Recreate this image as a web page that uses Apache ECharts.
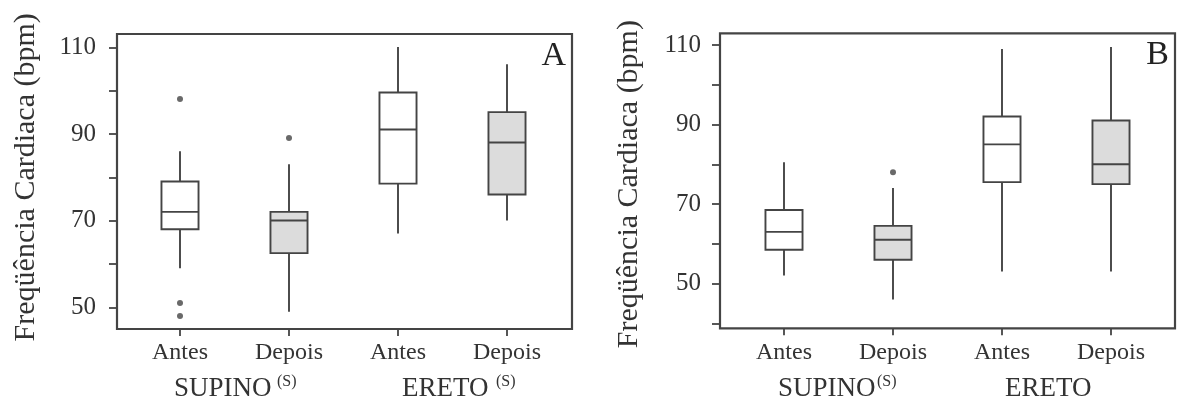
<!DOCTYPE html>
<html><head><meta charset="utf-8">
<script src="https://cdn.jsdelivr.net/npm/echarts@6/dist/echarts.min.js"></script>
<style>html,body{margin:0;padding:0;background:#fff}#c{width:1177px;height:400px}</style>
</head><body><div id="c"></div>
<script>
// ---- data ----
const categories = ['Antes', 'Depois', 'Antes', 'Depois'];
const yTickLabelsShown = [50, 70, 90, 110];
const yTitle = 'Freqüência Cardiaca (bpm)';

// Panel A
const aLow    = [59, 49, 67, 70];
const aQ1     = [68, 62.5, 78.5, 76];
const aMedian = [72, 70, 91, 88];
const aQ3     = [79, 72, 99.5, 95];
const aHigh   = [86, 83, 110, 106];
const aOutliers = [[0, 98], [0, 51], [0, 48], [1, 89]];
const aGroups = [['SUPINO', '(S)'], ['ERETO', '(S)']];

// Panel B
const bLow    = [52, 46, 53, 53];
const bQ1     = [58.5, 56, 75.5, 75];
const bMedian = [63, 61, 85, 80];
const bQ3     = [68.5, 64.5, 92, 91];
const bHigh   = [80.5, 74, 109, 109.5];
const bOutliers = [[1, 78]];
const bGroups = [['SUPINO', '(S)'], ['ERETO', '']];

// ---- style ----
const INK = '#333333';
const LINE = '#444444';
const FONT = "'Liberation Serif', 'Times New Roman', serif";
const boxFill = ['#ffffff', '#dcdcdc', '#ffffff', '#dcdcdc'];

function rows(lo, q1, md, q3, hi) {
  return categories.map((c, i) => [i, lo[i], q1[i], md[i], q3[i], hi[i]]);
}

function renderBox(params, api) {
  const i = api.value(0);
  const lo = api.coord([i, api.value(1)]);
  const q1 = api.coord([i, api.value(2)]);
  const md = api.coord([i, api.value(3)]);
  const q3 = api.coord([i, api.value(4)]);
  const hi = api.coord([i, api.value(5)]);
  const half = api.size([1, 0])[0] * 0.17;
  const st = { stroke: LINE, lineWidth: 1.9, fill: null };
  return {
    type: 'group',
    children: [
      { type: 'line', shape: { x1: lo[0], y1: lo[1], x2: q1[0], y2: q1[1] }, style: st },
      { type: 'line', shape: { x1: q3[0], y1: q3[1], x2: hi[0], y2: hi[1] }, style: st },
      { type: 'rect', shape: { x: q3[0] - half, y: q3[1], width: half * 2, height: q1[1] - q3[1] },
        style: { fill: boxFill[params.dataIndex], stroke: LINE, lineWidth: 1.9 } },
      { type: 'line', shape: { x1: md[0] - half, y1: md[1], x2: md[0] + half, y2: md[1] }, style: st }
    ]
  };
}

const grid = [], xAxis = [], yAxis = [], series = [], graphic = [];

function addPanel(p) {
  const g0 = grid.length;
  // frame grid
  grid.push({ left: p.fl, top: p.ft, width: p.fw, height: p.fh, show: true,
              borderColor: LINE, borderWidth: 2.2, backgroundColor: 'transparent' });
  xAxis.push({ gridIndex: g0, type: 'value', show: false });
  yAxis.push({ gridIndex: g0, type: 'value', show: false });
  // tick grid
  grid.push({ left: p.fl, top: p.tt, width: p.fw, height: p.th });
  xAxis.push({ gridIndex: g0 + 1, type: 'value', show: false });
  yAxis.push({
    gridIndex: g0 + 1, type: 'value', min: p.tmin, max: 110, interval: 10,
    axisLine: { show: false }, splitLine: { show: false },
    axisTick: { show: true, length: 8, lineStyle: { color: LINE, width: 1.8 } },
    axisLabel: { margin: p.lm, fontSize: 25, fontFamily: FONT, color: INK,
      formatter: v => yTickLabelsShown.includes(v) ? String(v) : '' },
    name: yTitle, nameLocation: 'middle', nameRotate: 90, nameGap: p.ng,
    nameTextStyle: { fontSize: 30, fontFamily: FONT, color: INK }
  });
  // data grid
  grid.push({ left: p.dl, top: p.ft, width: p.dw, height: p.fh });
  xAxis.push({
    gridIndex: g0 + 2, type: 'category', data: categories, boundaryGap: true,
    axisLine: { show: false }, splitLine: { show: false },
    axisTick: { show: true, alignWithLabel: true, length: 7, lineStyle: { color: LINE, width: 1.8 } },
    axisLabel: { margin: 12, fontSize: 24, fontFamily: FONT, color: INK, interval: 0 }
  });
  yAxis.push({ gridIndex: g0 + 2, type: 'value', min: p.ymin, max: p.ymax, show: false });
  series.push({
    type: 'custom', xAxisIndex: g0 + 2, yAxisIndex: g0 + 2, clip: false,
    renderItem: renderBox, encode: { x: 0, y: [1, 2, 3, 4, 5] }, data: p.data, silent: true
  });
  series.push({
    type: 'scatter', xAxisIndex: g0 + 2, yAxisIndex: g0 + 2, symbol: 'circle', symbolSize: 6,
    itemStyle: { color: '#444' }, data: p.outliers, silent: true
  });
  // panel letter
  graphic.push({ type: 'text', x: p.fl + p.fw - 6, y: p.ft + 22,
    style: { text: p.letter, fontSize: 34, fontFamily: FONT, fill: '#222',
             align: 'right', verticalAlign: 'middle', textAlign: 'right', textVerticalAlign: 'middle' } });
  // group labels
  p.groups.forEach((gr, k) => {
    graphic.push({ type: 'text', x: p.gx[k], y: 389,
      style: { text: gr[0], fontSize: 27, fontFamily: FONT, fill: INK,
               align: 'left', verticalAlign: 'middle', textAlign: 'left', textVerticalAlign: 'middle' } });
    if (gr[1]) graphic.push({ type: 'text', x: p.sx[k], y: 382,
      style: { text: gr[1], fontSize: 16, fontFamily: FONT, fill: INK,
               align: 'left', verticalAlign: 'middle', textAlign: 'left', textVerticalAlign: 'middle' } });
  });
}

addPanel({ fl: 117, ft: 34, fw: 455, fh: 295, tt: 47.3, th: 260, tmin: 50, lm: 21, ng: 76,
  dl: 125.5, dw: 436, ymin: 45, ymax: 113, letter: 'A',
  data: rows(aLow, aQ1, aMedian, aQ3, aHigh), outliers: aOutliers,
  groups: aGroups, gx: [174, 402], sx: [277, 496] });
addPanel({ fl: 720, ft: 33.3, fw: 455, fh: 295, tt: 45, th: 278.3, tmin: 40, lm: 19, ng: 76,
  dl: 729.5, dw: 436, ymin: 38.74, ymax: 112.94, letter: 'B',
  data: rows(bLow, bQ1, bMedian, bQ3, bHigh), outliers: bOutliers,
  groups: bGroups, gx: [778, 1005], sx: [877, 0] });

const chart = echarts.init(document.getElementById('c'), null, { renderer: 'canvas' });
chart.setOption({ animation: false, backgroundColor: '#ffffff', grid, xAxis, yAxis, series, graphic });
</script></body></html>
